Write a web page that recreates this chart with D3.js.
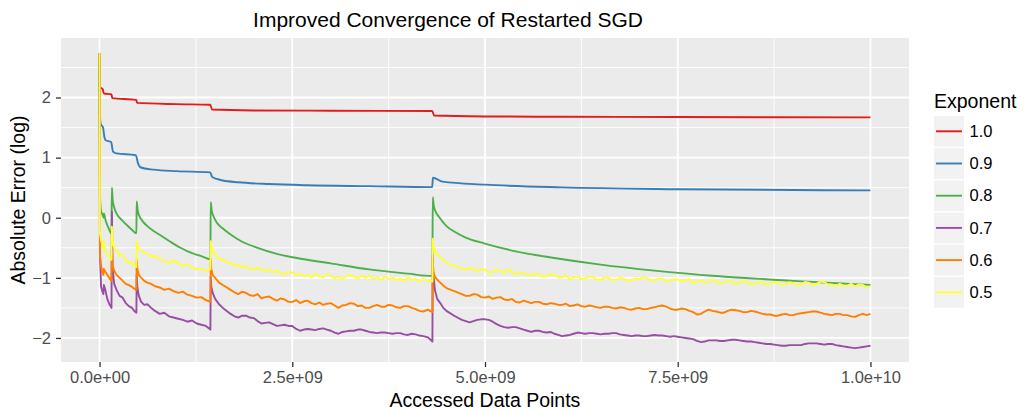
<!DOCTYPE html>
<html>
<head>
<meta charset="utf-8">
<script src="https://cdn.jsdelivr.net/npm/d3@7"></script>
<style>
  body { margin: 0; background: #fff; }
  svg text { font-family: "Liberation Sans", Arial, sans-serif; }
</style>
</head>
<body>
<svg id="chart" width="1024" height="411"></svg>
<script>
/* Restarted SGD: absolute error (log) vs accessed data points, one line per exponent */

// --- Data (x in units of 1e9 accessed data points) ---
const exponents = ["1.0", "0.9", "0.8", "0.7", "0.6", "0.5"];
const lineColors = ["#E41A1C", "#377EB8", "#4DAF4A", "#984EA3", "#FF7F00", "#FFFF33"];

const xTicks = [0, 2.5e9, 5e9, 7.5e9, 1e10];
const xTickLabels = ["0.0e+00", "2.5e+09", "5.0e+09", "7.5e+09", "1.0e+10"];
const xMinor = [1.25e9, 3.75e9, 6.25e9, 8.75e9];
const yTicks = [-2, -1, 0, 1, 2];
const yMinor = [-1.5, -0.5, 0.5, 1.5, 2.5];

// smooth runs: [x, error]
const exp10 = [
  [0, 2.74], [0.004, 2.17], [0.04, 2.14], [0.055, 2.07], [0.155, 2.05], [0.165, 1.99],
  [0.475, 1.96], [0.49, 1.91], [1.0, 1.89], [1.435, 1.88], [1.46, 1.80], [2.0, 1.785],
  [3.0, 1.78], [4.315, 1.775], [4.34, 1.70], [5.0, 1.685], [6.0, 1.68], [7.5, 1.675], [10.0, 1.67]
];
const exp09 = [
  [0, 2.74], [0.004, 1.75], [0.015, 1.56], [0.045, 1.50], [0.065, 1.33], [0.08, 1.29],
  [0.15, 1.26], [0.175, 1.10], [0.22, 1.07], [0.47, 1.04], [0.5, 0.90], [0.53, 0.84],
  [0.7, 0.80], [1.0, 0.775], [1.435, 0.755], [1.46, 0.68], [1.52, 0.645], [1.6, 0.62],
  [1.8, 0.59], [2.2, 0.56], [2.7, 0.54], [3.5, 0.525], [4.315, 0.51], [4.325, 0.665],
  [4.45, 0.60], [5.0, 0.55], [6.0, 0.505], [7.5, 0.475], [10.0, 0.455]
];
const exp08 = [
  [0, 2.74], [0.005, 0.4], [0.02, 0.1], [0.04, 0.05], [0.052, 0.0], [0.056, 0.07],
  [0.08, -0.05], [0.12, -0.18], [0.155, -0.27],
  [0.16, 0.5], [0.17, 0.3], [0.19, 0.17], [0.23, 0.05], [0.29, -0.04], [0.36, -0.13],
  [0.42, -0.2], [0.478, -0.26],
  [0.482, 0.27], [0.495, 0.12], [0.52, 0.02], [0.56, -0.06], [0.62, -0.14], [0.7, -0.22],
  [0.8, -0.3], [0.92, -0.4], [1.05, -0.5], [1.2, -0.59], [1.32, -0.64], [1.438, -0.69],
  [1.442, 0.26], [1.455, 0.12], [1.48, 0.02], [1.52, -0.08], [1.6, -0.18], [1.7, -0.28],
  [1.85, -0.4], [2.05, -0.5], [2.3, -0.6], [2.65, -0.69], [3.0, -0.76], [3.5, -0.86],
  [4.0, -0.93], [4.318, -0.97],
  [4.322, 0.34], [4.335, 0.2], [4.36, 0.1], [4.4, 0.02], [4.5, -0.14], [4.6, -0.23],
  [4.75, -0.33], [5.0, -0.43], [5.4, -0.56], [5.9, -0.67], [6.5, -0.78], [7.2, -0.88],
  [8.0, -0.97], [9.0, -1.05], [10.0, -1.12]
];

// noisy runs share one x grid
const gridX = [
  0, 0.005, 0.02, 0.035, 0.05, 0.056, 0.075, 0.1, 0.125, 0.155,
  0.16, 0.17, 0.19, 0.22, 0.26, 0.3, 0.34, 0.38, 0.42, 0.45, 0.478,
  0.482, 0.49, 0.51, 0.54, 0.58, 0.62, 0.67, 0.72, 0.78, 0.84,
  0.9, 0.96, 1.02, 1.08, 1.14, 1.2, 1.26, 1.32, 1.38, 1.438,
  1.442, 1.45, 1.47, 1.5, 1.55, 1.6,
  1.7, 1.75, 1.8, 1.85, 1.9, 1.95, 2.0, 2.05, 2.1, 2.15,
  2.2, 2.25, 2.3, 2.35, 2.4, 2.45, 2.5, 2.55, 2.6, 2.65,
  2.7, 2.75, 2.8, 2.85, 2.9, 2.95, 3.0, 3.05, 3.1, 3.15,
  3.2, 3.25, 3.3, 3.35, 3.4, 3.45, 3.5, 3.55, 3.6, 3.65,
  3.7, 3.75, 3.8, 3.85, 3.9, 3.95, 4.0, 4.05, 4.1, 4.15,
  4.2, 4.26, 4.318,
  4.322, 4.33, 4.35, 4.38, 4.42, 4.46, 4.5, 4.6,
  4.7, 4.75, 4.8, 4.85, 4.9, 4.95,
  5.0, 5.05, 5.1, 5.15, 5.2, 5.25, 5.3, 5.35, 5.4, 5.45,
  5.5, 5.55, 5.6, 5.65, 5.7, 5.75, 5.8, 5.85, 5.9, 5.95,
  6.0, 6.05, 6.1, 6.15, 6.2, 6.25, 6.3, 6.35, 6.4, 6.45,
  6.5, 6.55, 6.6, 6.65, 6.7, 6.75, 6.8, 6.85, 6.9, 6.95,
  7.0, 7.05, 7.1, 7.15, 7.2, 7.25, 7.3, 7.35, 7.4, 7.45,
  7.5, 7.55, 7.6, 7.65, 7.7, 7.75, 7.8, 7.85, 7.9, 7.95,
  8.0, 8.05, 8.1, 8.15, 8.2, 8.25, 8.3, 8.35, 8.4, 8.45,
  8.5, 8.55, 8.6, 8.65, 8.7, 8.75, 8.8, 8.85, 8.9, 8.95,
  9.0, 9.05, 9.1, 9.15, 9.2, 9.25, 9.3, 9.35, 9.4, 9.45,
  9.5, 9.55, 9.6, 9.65, 9.7, 9.75, 9.8, 9.85, 9.9, 9.95,
  10.0
];
const exp07 = [
  2.74, -0.6, -1.15, -1.22, -1.27, -1.12, -1.2, -1.35, -1.43, -1.5,
  0.1, -0.85, -1.1, -1.2, -1.3, -1.33, -1.42, -1.47, -1.5, -1.55, -1.58,
  -0.95, -1.15, -1.3, -1.4, -1.45, -1.44, -1.5, -1.55, -1.6, -1.58,
  -1.64, -1.66, -1.68, -1.7, -1.73, -1.71, -1.76, -1.78, -1.8, -1.86,
  -0.98, -1.15, -1.26, -1.35, -1.44, -1.5,
  -1.6, -1.64, -1.66, -1.63, -1.63, -1.66, -1.67, -1.72, -1.76, -1.75,
  -1.74, -1.77, -1.8, -1.79, -1.78, -1.8, -1.8, -1.85, -1.88, -1.86,
  -1.85, -1.86, -1.87, -1.85, -1.84, -1.86, -1.88, -1.91, -1.93, -1.9,
  -1.89, -1.88, -1.88, -1.86, -1.86, -1.88, -1.9, -1.91, -1.92, -1.91,
  -1.91, -1.92, -1.93, -1.92, -1.92, -1.94, -1.95, -1.93, -1.94, -1.96,
  -1.97, -1.99, -2.06,
  -0.62, -0.95, -1.2, -1.35, -1.42, -1.5, -1.55, -1.63,
  -1.7, -1.72, -1.74, -1.72, -1.7, -1.69,
  -1.69, -1.7, -1.73, -1.77, -1.8, -1.82, -1.83, -1.82, -1.82, -1.84,
  -1.86, -1.88, -1.9, -1.88, -1.88, -1.9, -1.91, -1.9, -1.93, -1.95,
  -1.97, -1.96, -1.95, -1.93, -1.91, -1.92, -1.93, -1.92, -1.92, -1.93,
  -1.94, -1.93, -1.93, -1.92, -1.92, -1.94, -1.95, -1.96, -1.97, -1.96,
  -1.96, -1.97, -1.97, -1.96, -1.95, -1.96, -1.96, -1.97, -1.98, -1.97,
  -1.98, -1.99, -2.0, -2.01, -2.02, -2.05, -2.07, -2.06, -2.04, -2.04,
  -2.04, -2.05, -2.05, -2.04, -2.03, -2.03, -2.04, -2.05, -2.06, -2.06,
  -2.07, -2.08, -2.09, -2.1, -2.1, -2.11, -2.12, -2.13, -2.13, -2.12,
  -2.12, -2.12, -2.12, -2.1, -2.09, -2.09, -2.09, -2.1, -2.11, -2.1,
  -2.1, -2.12, -2.13, -2.14, -2.15, -2.16, -2.17, -2.16, -2.15, -2.14,
  -2.13
];
const exp06 = [
  2.74, -0.62, -0.8, -0.9, -0.95, -0.85, -0.9, -0.95, -1.0, -1.05,
  -0.55, -0.8, -0.88, -0.95, -1.0, -1.05, -1.1, -1.12, -1.15, -1.18, -1.2,
  -0.7, -0.85, -0.95, -1.0, -1.05, -1.08, -1.1, -1.14, -1.16, -1.2,
  -1.18, -1.22, -1.25, -1.23, -1.28, -1.3, -1.33, -1.32, -1.37, -1.4,
  -0.68, -0.86, -0.96, -1.0, -1.08, -1.12,
  -1.2, -1.24, -1.27, -1.23, -1.25, -1.29, -1.3, -1.27, -1.34, -1.32,
  -1.31, -1.35, -1.38, -1.34, -1.36, -1.4, -1.4, -1.37, -1.42, -1.39,
  -1.38, -1.42, -1.44, -1.41, -1.45, -1.43, -1.42, -1.46, -1.5, -1.46,
  -1.45, -1.42, -1.43, -1.47, -1.46, -1.5, -1.5, -1.47, -1.45, -1.48,
  -1.48, -1.45, -1.46, -1.49, -1.5, -1.47, -1.47, -1.5, -1.52, -1.55,
  -1.56, -1.53, -1.57,
  -0.75, -0.9, -0.98, -1.03, -1.08, -1.13, -1.17, -1.22,
  -1.27, -1.3, -1.3, -1.27, -1.28, -1.32,
  -1.33, -1.31, -1.35, -1.33, -1.32, -1.36, -1.37, -1.35, -1.4, -1.41,
  -1.38, -1.4, -1.42, -1.4, -1.4, -1.43, -1.44, -1.42, -1.43, -1.45,
  -1.45, -1.43, -1.47, -1.46, -1.44, -1.47, -1.48, -1.46, -1.47, -1.49,
  -1.5, -1.48, -1.48, -1.5, -1.51, -1.49, -1.5, -1.52, -1.53, -1.51,
  -1.5, -1.52, -1.52, -1.5, -1.49, -1.47, -1.46, -1.48, -1.51, -1.53,
  -1.53, -1.51, -1.52, -1.55, -1.57, -1.61, -1.6, -1.56, -1.53, -1.55,
  -1.56, -1.58, -1.58, -1.55, -1.53, -1.54, -1.55, -1.57, -1.57, -1.55,
  -1.56, -1.58, -1.6, -1.61, -1.61, -1.63, -1.63, -1.61, -1.6, -1.62,
  -1.62, -1.6, -1.59, -1.58, -1.57, -1.56, -1.56, -1.58, -1.6, -1.61,
  -1.62, -1.6, -1.6, -1.62, -1.62, -1.64, -1.65, -1.62, -1.6, -1.62,
  -1.6
];
const exp05 = [
  2.74, -0.25, -0.38, -0.45, -0.5, -0.4, -0.55, -0.62, -0.66, -0.7,
  -0.15, -0.38, -0.5, -0.55, -0.63, -0.62, -0.7, -0.76, -0.74, -0.8, -0.82,
  -0.39, -0.45, -0.52, -0.55, -0.58, -0.6, -0.65, -0.63, -0.69, -0.72,
  -0.75, -0.71, -0.76, -0.8, -0.77, -0.83, -0.86, -0.85, -0.88, -0.86,
  -0.39, -0.46, -0.56, -0.6, -0.68, -0.7,
  -0.76, -0.8, -0.78, -0.83, -0.8, -0.85, -0.86, -0.83, -0.86, -0.89,
  -0.86, -0.91, -0.88, -0.92, -0.95, -0.9, -0.91, -0.96, -0.93, -0.97,
  -0.95, -0.99, -0.93, -0.97, -0.99, -0.94, -0.97, -1.01, -0.98, -1.02,
  -0.97, -0.95, -0.98, -1.01, -0.97, -1.0, -0.96, -1.02, -0.99, -1.03,
  -0.98, -1.02, -1.0, -1.04, -1.01, -1.05, -0.99, -1.03, -1.02, -1.06,
  -1.02, -1.05, -1.06,
  -0.35, -0.45, -0.55, -0.6, -0.66, -0.7, -0.75, -0.8,
  -0.84, -0.87, -0.83, -0.86, -0.89, -0.85,
  -0.87, -0.91, -0.9, -0.86, -0.88, -0.92, -0.86, -0.9, -0.94, -0.91,
  -0.92, -0.95, -0.96, -0.93, -0.94, -0.98, -0.97, -0.94, -0.95, -0.99,
  -0.99, -0.96, -1.02, -0.99, -0.98, -1.02, -1.01, -0.98, -0.99, -1.03,
  -1.03, -0.99, -1.0, -1.04, -1.03, -1.0, -1.01, -1.05, -1.04, -1.01,
  -1.02, -0.99, -1.0, -1.04, -1.04, -1.01, -1.02, -1.06, -1.05, -1.02,
  -1.03, -1.06, -1.04, -1.02, -1.09, -1.06, -1.05, -1.08, -1.07, -1.04,
  -1.05, -1.09, -1.08, -1.05, -1.06, -1.1, -1.09, -1.06, -1.07, -1.11,
  -1.1, -1.07, -1.08, -1.11, -1.1, -1.07, -1.08, -1.12, -1.1, -1.07,
  -1.09, -1.12, -1.11, -1.07, -1.08, -1.12, -1.1, -1.06, -1.07, -1.11,
  -1.11, -1.14, -1.1, -1.13, -1.13, -1.1, -1.14, -1.11, -1.12, -1.15,
  -1.14
];

// --- Layout ---
const panel = { left: 61, right: 909, top: 38, bottom: 362 };
const svg = d3.select("#chart");

const pairs = arr => arr.map(d => ({ x: d[0] * 1e9, y: d[1] }));
const onGrid = vals => vals.map((v, i) => ({ x: gridX[i] * 1e9, y: v }));

const series = [
  { key: exponents[0], pts: pairs(exp10), smooth: true },
  { key: exponents[1], pts: pairs(exp09), smooth: true },
  { key: exponents[2], pts: pairs(exp08), smooth: true },
  { key: exponents[3], pts: onGrid(exp07), smooth: false },
  { key: exponents[4], pts: onGrid(exp06), smooth: false },
  { key: exponents[5], pts: onGrid(exp05), smooth: false }
];
[exp07, exp06, exp05].forEach(v => {
  if (v.length !== gridX.length) console.warn("length mismatch", v.length, gridX.length);
});

// --- Scales (ggplot-style 5% expansion) ---
const x = d3.scaleLinear().domain([-0.5e9, 10.5e9]).range([panel.left, panel.right]);
const y = d3.scaleLinear().domain([-2.4, 2.99]).range([panel.bottom, panel.top]);
const color = d3.scaleOrdinal().domain(exponents).range(lineColors);

// --- Panel + grid ---
svg.append("rect")
  .attr("x", panel.left).attr("y", panel.top)
  .attr("width", panel.right - panel.left).attr("height", panel.bottom - panel.top)
  .attr("fill", "#EBEBEB");

const grid = svg.append("g").attr("stroke", "#fff");
grid.selectAll("line.ymin").data(yMinor).join("line")
  .attr("x1", panel.left).attr("x2", panel.right)
  .attr("y1", d => y(d)).attr("y2", d => y(d)).attr("stroke-width", 0.9);
grid.selectAll("line.xmin").data(xMinor).join("line")
  .attr("y1", panel.top).attr("y2", panel.bottom)
  .attr("x1", d => x(d)).attr("x2", d => x(d)).attr("stroke-width", 0.9);
grid.selectAll("line.ymaj").data(yTicks).join("line")
  .attr("x1", panel.left).attr("x2", panel.right)
  .attr("y1", d => y(d)).attr("y2", d => y(d)).attr("stroke-width", 1.8);
grid.selectAll("line.xmaj").data(xTicks).join("line")
  .attr("y1", panel.top).attr("y2", panel.bottom)
  .attr("x1", d => x(d)).attr("x2", d => x(d)).attr("stroke-width", 1.8);

// --- Lines ---
const lineSmooth = d3.line().x(d => x(d.x)).y(d => y(d.y)).curve(d3.curveMonotoneX);
const lineRaw = d3.line().x(d => x(d.x)).y(d => y(d.y)).defined(d => isFinite(d.y));

svg.append("g").selectAll("path")
  .data(series)
  .join("path")
  .attr("fill", "none")
  .attr("stroke", d => color(d.key))
  .attr("stroke-width", 1.9)
  .attr("stroke-linejoin", "round")
  .attr("d", d => (d.smooth ? lineSmooth : lineRaw)(d.pts));

// --- Axes ---
const minus = v => (v < 0 ? "\u2212" + Math.abs(v) : String(v));

const xAxis = svg.append("g")
  .attr("transform", `translate(0, ${panel.bottom})`)
  .call(d3.axisBottom(x).tickValues(xTicks).tickSize(5).tickPadding(4)
    .tickFormat((d, i) => xTickLabels[i]));

const yAxis = svg.append("g")
  .attr("transform", `translate(${panel.left}, 0)`)
  .call(d3.axisLeft(y).tickValues(yTicks).tickSize(5).tickPadding(5).tickFormat(minus));

[xAxis, yAxis].forEach(ax => {
  ax.select(".domain").remove();
  ax.selectAll(".tick line").attr("stroke", "#333").attr("stroke-width", 1.3);
  ax.selectAll(".tick text")
    .attr("fill", "#4D4D4D")
    .attr("font-size", null)
    .style("font-size", "16.5px")
    .style("font-family", "'Liberation Sans', Arial, sans-serif");
});

// --- Titles ---
svg.append("text")
  .attr("x", 448).attr("y", 27)
  .attr("text-anchor", "middle").style("font-size", "21px")
  .text("Improved Convergence of Restarted SGD");

svg.append("text")
  .attr("x", (panel.left + panel.right) / 2).attr("y", 407)
  .attr("text-anchor", "middle").style("font-size", "19.5px")
  .text("Accessed Data Points");

svg.append("text")
  .attr("transform", `translate(25, ${(panel.top + panel.bottom) / 2}) rotate(-90)`)
  .attr("text-anchor", "middle").style("font-size", "19.5px")
  .text("Absolute Error (log)");

// --- Legend ---
const legend = svg.append("g").attr("transform", "translate(934, 0)");
legend.append("text")
  .attr("x", 0).attr("y", 107.5)
  .style("font-size", "19.5px")
  .text("Exponent");

const keys = legend.selectAll("g.key")
  .data(exponents)
  .join("g")
  .attr("class", "key")
  .attr("transform", (d, i) => `translate(0, ${116 + i * 32.2})`);

keys.append("rect")
  .attr("width", 30).attr("height", 30.7)
  .attr("fill", "#F2F2F2");
keys.append("line")
  .attr("x1", 2).attr("x2", 28).attr("y1", 15.3).attr("y2", 15.3)
  .attr("stroke", d => color(d)).attr("stroke-width", 1.9);
keys.append("text")
  .attr("x", 35.5).attr("y", 15.3).attr("dy", "0.35em")
  .style("font-size", "16.5px")
  .text(d => d);
</script>
</body>
</html>
